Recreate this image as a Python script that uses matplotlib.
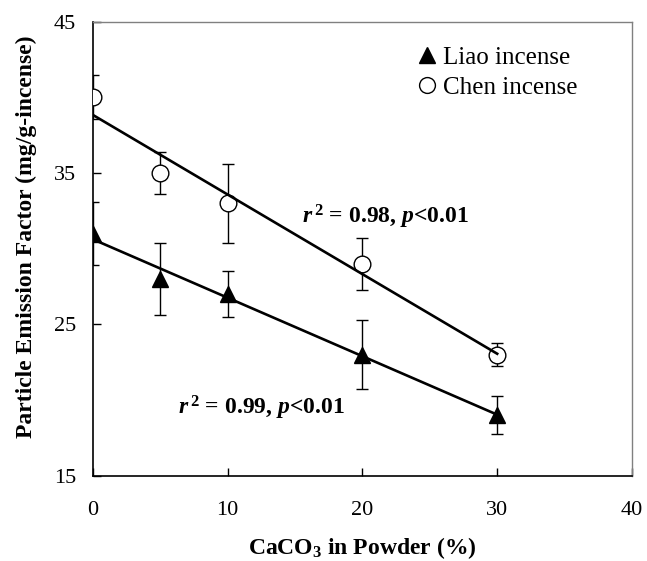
import numpy as np
import matplotlib
matplotlib.use("Agg")
import matplotlib.pyplot as plt

plt.rcParams['font.family'] = ['Liberation Serif', 'DejaVu Serif']
plt.rcParams['mathtext.fontset'] = 'custom'
plt.rcParams['mathtext.rm'] = 'Liberation Serif:bold'
plt.rcParams['mathtext.it'] = 'Liberation Serif:bold:italic'
plt.rcParams['mathtext.bf'] = 'Liberation Serif:bold'

# Data
caco3 = [0, 5, 10, 20, 30]
liao = [31, 28, 27, 23, 19]
liao_err = [2.1, 2.4, 1.5, 2.3, 1.25]
chen = [40, 35, 33, 29, 23]
chen_err = [1.45, 1.4, 2.6, 1.7, 0.75]
x_ticks = [0, 10, 20, 30, 40]
y_ticks = [15, 25, 35, 45]

fig = plt.figure(figsize=(6.47, 5.61), dpi=100)
ax = fig.add_axes([0.1437, 0.152, 0.833, 0.8093])

x = np.array(caco3, dtype=float)

# error bars
ax.errorbar(caco3, liao, yerr=liao_err, fmt='none', ecolor='black', elinewidth=1.0,
            capsize=4, capthick=1.0, zorder=2)
ax.errorbar(caco3, chen, yerr=chen_err, fmt='none', ecolor='black', elinewidth=1.0,
            capsize=4, capthick=1.0, zorder=2)

# markers
ax.plot(caco3, liao, linestyle='none', marker='^', markersize=12, color='black',
        markeredgecolor='black', zorder=3, label='Liao incense')
ax.plot(caco3, chen, linestyle='none', marker='o', markersize=12, markerfacecolor='white',
        markeredgecolor='black', markeredgewidth=1.0, zorder=3, label='Chen incense')

# regression lines
for ys in (liao, chen):
    k, b = np.polyfit(x, np.array(ys, dtype=float), 1)
    xx = np.array([x.min(), x.max()])
    ax.plot(xx, k * xx + b, color='black', linewidth=1.9, zorder=4)

ax.set_xlim(0, 40)
ax.set_ylim(15, 45)
ax.set_xticks(x_ticks)
ax.set_yticks(y_ticks)
ax.tick_params(direction='in', length=6, width=1, labelsize=16, colors='black')
ax.tick_params(axis='y', pad=12)
ax.tick_params(axis='x', pad=18)

for s in ('left', 'bottom'):
    ax.spines[s].set_color('black')
    ax.spines[s].set_linewidth(1.2)
for s in ('top', 'right'):
    ax.spines[s].set_color('#808080')
    ax.spines[s].set_linewidth(1.0)

ax.set_xlabel(r'CaCO$_{3}$ in Powder (%)', fontsize=17, fontweight='bold', labelpad=11)
ax.set_ylabel('Particle Emission Factor (mg/g-incense)', fontsize=17, fontweight='bold')
ax.yaxis.set_label_coords(-0.104, 0.526)

ax.text(0.542, 0.570, r'$r^{\,2}$ = 0.98, $p$<0.01', transform=ax.transAxes,
        fontsize=17, fontweight='bold', ha='center', va='center')
ax.text(0.3135, 0.149, r'$r^{\,2}$ = 0.99, $p$<0.01', transform=ax.transAxes,
        fontsize=17, fontweight='bold', ha='center', va='center')

leg = ax.legend(loc='upper left', bbox_to_anchor=(0.6006, 0.9465), frameon=False,
                fontsize=18, handlelength=0.8, handletextpad=0.25, labelspacing=0.3,
                borderpad=0.0, borderaxespad=0.0, markerscale=0.95)

fig.savefig('out.png', dpi=100)
